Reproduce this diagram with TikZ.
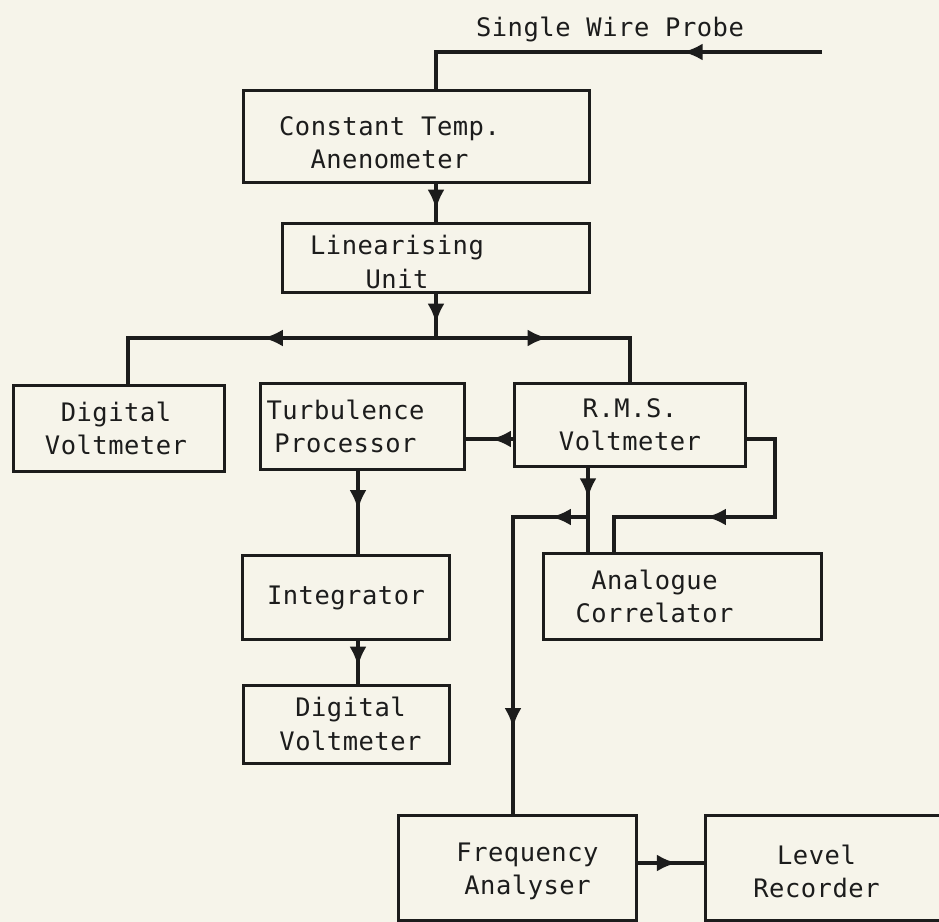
\documentclass[tikz,border=0pt]{standalone}
\usepackage{fontspec}
\newfontfamily\plotter{DejaVu Sans Mono}[LetterSpace=2]
\usetikzlibrary{arrows.meta,decorations.markings,calc}
\definecolor{paper}{RGB}{246,244,234}
\definecolor{ink}{RGB}{28,28,28}
\tikzset{
  >={Latex[length=4mm,width=3.4mm]},
  box/.style 2 args={draw=ink,line width=0.06cm,minimum width=#1cm,minimum height=#2cm,inner sep=0pt},
  boxtext/.style={align=center,text=ink,font=\plotter\fontsize{14.5}{19}\selectfont},
  wire/.style={draw=ink,line width=0.09cm},
  arrowmid/.style={postaction={decorate},decoration={markings,mark=at position #1 with {\arrow{>}}}},
  arrowmids/.style 2 args={postaction={decorate},decoration={markings,
    mark=at position #1 with {\arrow{>}},mark=at position #2 with {\arrow{>}}}},
}
\begin{document}
\begin{tikzpicture}[x=0.02cm,y=-0.02cm]
  \fill[paper] (0,0) rectangle (939,922);
  \useasboundingbox (0,0) rectangle (939,922);
  % units
  \node[box={6.94}{1.86},label={[boxtext,xshift=-0.54cm,yshift=-0.12cm]center:Constant Temp.\\Anenometer}] (cta) at (416.5,136.5) {};
  \node[box={6.16}{1.40},label={[boxtext,xshift=-0.78cm,yshift=-0.08cm]center:Linearising\\Unit}] (lu) at (436,258) {};
  \node[box={4.24}{1.74},label={[boxtext,xshift=-0.06cm]center:Digital\\Voltmeter}] (dv1) at (119,428.5) {};
  \node[box={4.10}{1.74},label={[boxtext,xshift=-0.34cm]center:Turbulence\\Processor}] (tp) at (362.5,426.5) {};
  \node[box={4.64}{1.68},label={[boxtext]center:R.M.S.\\Voltmeter}] (rms) at (630,425) {};
  \node[box={5.58}{1.74},label={[boxtext,xshift=-0.56cm]center:Analogue\\Correlator}] (ac) at (682.5,596.5) {};
  \node[box={4.16}{1.70},label={[boxtext]center:Integrator}] (integ) at (346,597.5) {};
  \node[box={4.14}{1.56},label={[boxtext,xshift=0.08cm]center:Digital\\Voltmeter}] (dv2) at (346.5,724) {};
  \node[box={4.78}{2.10},label={[boxtext,xshift=0.2cm,yshift=-0.08cm]center:Frequency\\Analyser}] (fa) at (517.5,867.5) {};
  \node[box={4.78}{2.10},label={[boxtext,xshift=-0.16cm,yshift=-0.08cm]center:Level\\Recorder}] (lr) at (824.5,867.5) {};
  \node[boxtext,anchor=base] (probetext) at (610,37) {Single Wire Probe};
  % junctions
  \coordinate (probe) at (822,52);
  \coordinate (bus) at (436,338);
  \coordinate (rbend) at (775,517);
  \coordinate (tap) at ([xshift=-0.84cm]rms.south |- rbend);
  % signal paths
  \draw[wire,arrowmid=0.33] (probe) -| (cta.north -| lu.north);
  \draw[wire,arrowmid=0.68] (cta.south -| lu.north) -- (lu.north);
  \draw[wire,arrowmid=0.67] (lu.south) -- (bus);
  \draw[wire,arrowmid=0.49] (bus) -| ([xshift=0.18cm]dv1.north);
  \draw[wire,arrowmid=0.47] (bus) -| (rms.north);
  \draw[wire,arrowmid=0.47] ([yshift=-0.28cm]rms.west) -- ([yshift=-0.28cm]rms.west -| tp.east);
  \draw[wire,arrowmid=0.58] ([yshift=-0.28cm]rms.east) -| (rbend) -| ([xshift=-1.37cm]ac.north);
  \draw[wire,arrowmid=0.36] ([xshift=-0.84cm]rms.south) -- ([xshift=-0.84cm]rms.south |- ac.north);
  \draw[wire,arrowmids={0.10}{0.77}] (tap) -| ([xshift=-0.09cm]fa.north);
  \draw[wire,arrowmid=0.47] ([xshift=-0.09cm]tp.south) -- ([xshift=-0.09cm]tp.south |- integ.north);
  \draw[wire,arrowmid=0.6] ([xshift=0.24cm]integ.south) -- ([xshift=0.24cm]integ.south |- dv2.north);
  \draw[wire,arrowmid=0.59] ([yshift=0.09cm]fa.east) -- ([yshift=0.09cm]lr.west);
\end{tikzpicture}
\end{document}
